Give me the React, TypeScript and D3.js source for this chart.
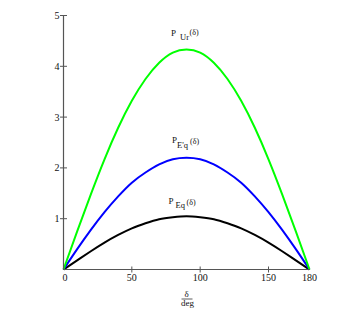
import React from "react";
import * as d3 from "d3";

const degrees = [0, 10, 20, 30, 40, 50, 60, 70, 80, 90, 100, 110, 120, 130, 140, 150, 160, 170, 180];
const pUr = [0, 0.75, 1.48, 2.17, 2.79, 3.32, 3.75, 4.07, 4.27, 4.33, 4.27, 4.07, 3.75, 3.32, 2.79, 2.17, 1.48, 0.75, 0];
const pEqPrime = [0, 0.4, 0.78, 1.13, 1.44, 1.71, 1.91, 2.07, 2.17, 2.2, 2.17, 2.07, 1.91, 1.71, 1.44, 1.13, 0.78, 0.4, 0];
const pEq = [0, 0.18, 0.36, 0.53, 0.68, 0.81, 0.91, 0.99, 1.03, 1.05, 1.03, 0.99, 0.91, 0.81, 0.68, 0.53, 0.36, 0.18, 0];
const xTicks = [0, 50, 100, 150, 180];
const yTicks = [0, 1, 2, 3, 4, 5];

const W = 355;
const H = 320;

export default function App() {
  const x = d3.scaleLinear().domain([0, 180]).range([63.5, 309.5]);
  const y = d3.scaleLinear().domain([0, 5]).range([269.5, 15.5]);
  const line = (vals: number[]) =>
    d3
      .line<number>()
      .x((_, i) => x(degrees[i]))
      .y((v) => y(v))
      .curve(d3.curveNatural)(vals) || "";

  const font = "'Liberation Serif', 'Times New Roman', serif";
  const axisColor = "#555";

  return (
    <svg
      width={W}
      height={H}
      style={{ position: "absolute", left: 0, top: 0, background: "#fff" }}
      fontFamily={font}
    >
      <rect x={0} y={0} width={W} height={H} fill="#fff" />
      {/* curves */}
      <path d={line(pEq)} fill="none" stroke="#000" strokeWidth={2} />
      <path d={line(pEqPrime)} fill="none" stroke="#0000ff" strokeWidth={2} />
      <path d={line(pUr)} fill="none" stroke="#00ff00" strokeWidth={2} />

      {/* axes */}
      <line x1={x(0)} x2={x(0)} y1={y(0)} y2={y(5)} stroke={axisColor} strokeWidth={1.2} />
      <line x1={x(0)} x2={x(180)} y1={y(0)} y2={y(0)} stroke={axisColor} strokeWidth={1.2} />
      {yTicks.map((t) => (
        <g key={"y" + t}>
          {t > 0 && (
            <line x1={x(0) - 3.5} x2={x(0) + 3.5} y1={y(t)} y2={y(t)} stroke={axisColor} strokeWidth={1} />
          )}
          {t > 0 && (
            <text x={x(0) - 4} y={y(t) + 3.5} fontSize={10} textAnchor="end" fill="#111">
              {t}
            </text>
          )}
        </g>
      ))}
      {xTicks.map((t) => (
        <g key={"x" + t}>
          {t > 0 && t < 180 && (
            <line x1={x(t)} x2={x(t)} y1={y(0) - 3} y2={y(0) + 3} stroke={axisColor} strokeWidth={1} />
          )}
          <text x={x(t) + (t === 0 ? 1.5 : 0)} y={281} fontSize={10} textAnchor="middle" fill="#111">
            {t}
          </text>
        </g>
      ))}

      {/* x axis label */}
      <text x={186.7} y={296.5} fontSize={9} textAnchor="middle" fill="#111">
        δ
      </text>
      <line x1={181.5} x2={192.5} y1={299} y2={299} stroke="#333" strokeWidth={0.8} />
      <text x={187.5} y={305.5} fontSize={9} textAnchor="middle" fill="#111">
        deg
      </text>

      {/* curve labels */}
      <g fill="#111" fontSize={9}>
        <text x={171} y={35.5}>P</text>
        <text x={180} y={40} fontSize={8.5}>Ur</text>
        <text x={189.5} y={35} fontSize={8}>(δ)</text>

        <text x={172} y={142.5}>P</text>
        <text x={177} y={147.5} fontSize={8.5}>E'q</text>
        <text x={190} y={144} fontSize={8}>(δ)</text>

        <text x={168.5} y={204}>P</text>
        <text x={175.5} y={208} fontSize={8.5}>Eq</text>
        <text x={186.5} y={204.5} fontSize={8}>(δ)</text>
      </g>
    </svg>
  );
}
